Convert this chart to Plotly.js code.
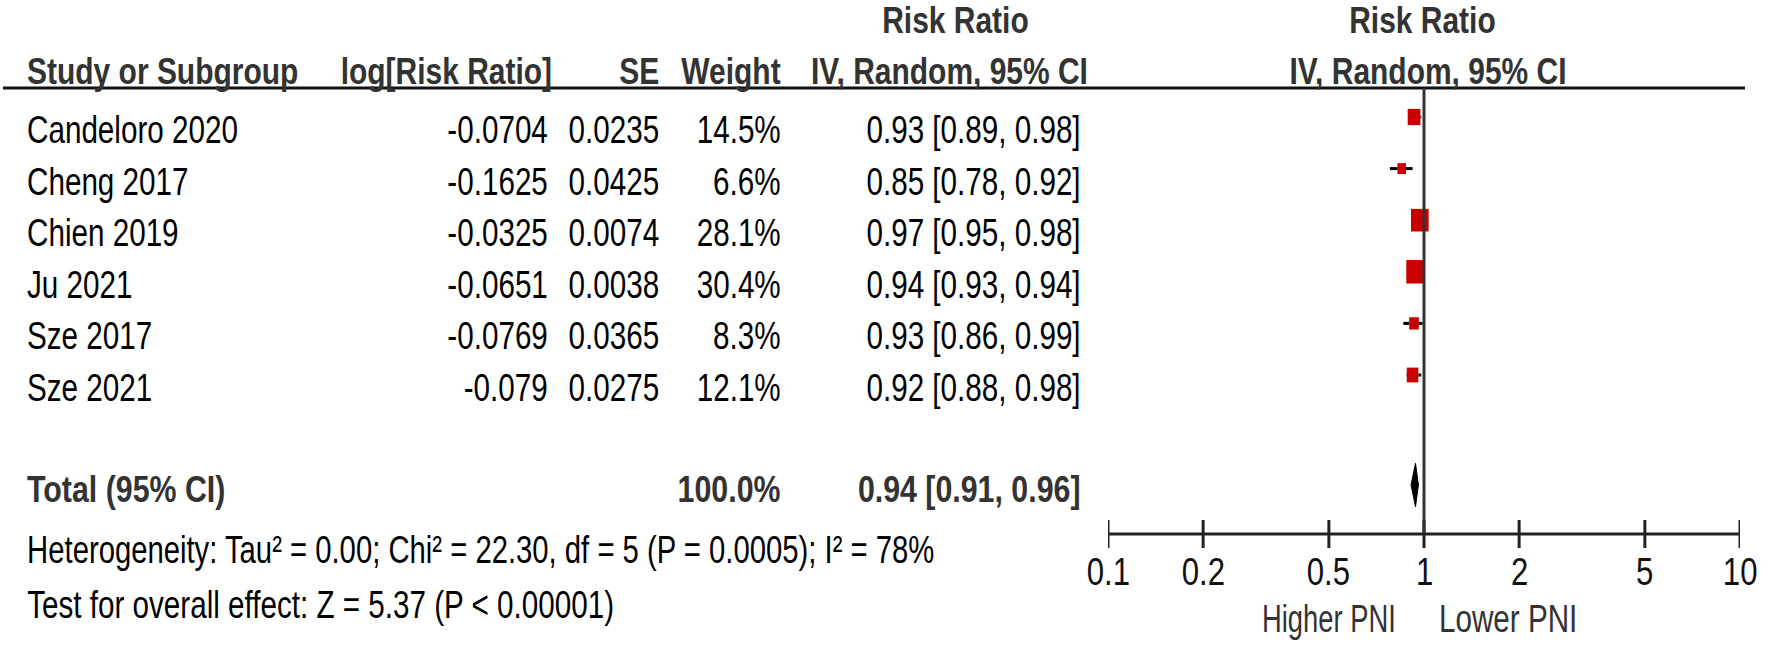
<!DOCTYPE html>
<html>
<head>
<meta charset="utf-8">
<script src="https://cdn.plot.ly/plotly-3.0.1.min.js"></script>
<style>html,body{margin:0;padding:0;background:#fff;}#chart{width:1772px;height:646px;}</style>
</head>
<body>
<div id="chart"></div>
<script>
// ---- data ----
var studies = ["Candeloro 2020", "Cheng 2017", "Chien 2019", "Ju 2021", "Sze 2017", "Sze 2021"];
var logRR = ["-0.0704", "-0.1625", "-0.0325", "-0.0651", "-0.0769", "-0.079"];
var seVals = ["0.0235", "0.0425", "0.0074", "0.0038", "0.0365", "0.0275"];
var weights = [14.5, 6.6, 28.1, 30.4, 8.3, 12.1];
var rr = [0.93, 0.85, 0.97, 0.94, 0.93, 0.92];
var ciLow = [0.89, 0.78, 0.95, 0.93, 0.86, 0.88];
var ciHigh = [0.98, 0.92, 0.98, 0.94, 0.99, 0.98];
var totalLabel = "Total (95% CI)";
var totalWeight = 100.0;
var totalRR = 0.94, totalLow = 0.91, totalHigh = 0.96;
var heterogeneity = "Heterogeneity: Tau² = 0.00; Chi² = 22.30, df = 5 (P = 0.0005); I² = 78%";
var overallTest = "Test for overall effect: Z = 5.37 (P < 0.00001)";
var tickVals = [0.1, 0.2, 0.5, 1, 2, 5, 10];
var tickText = ["0.1", "0.2", "0.5", "1", "2", "5", "10"];
var leftFavour = "Higher PNI", rightFavour = "Lower PNI";
var headers = ["Study or Subgroup", "log[Risk Ratio]", "SE", "Weight", "IV, Random, 95% CI", "IV, Random, 95% CI"];
var groupHeader = "Risk Ratio";

// ---- layout helpers ----
var W = 1772, H = 646;
var FONT = "Liberation Sans, Arial, sans-serif";
var rowPx0 = 117, rowStep = 51.6;
function rowOf(p) { return (p - rowPx0) / rowStep; }
function px(xp) { return xp / W; }
var totalRow = rowOf(485);
var axisRow = rowOf(534);
var headLineRow = rowOf(88);
var textShift = 13 / rowStep;

var ann = [], meta = [];
function addText(text, x, row, anchor, opts) {
  opts = opts || {};
  ann.push({
    text: opts.bold ? "<b>" + text + "</b>" : text,
    xref: opts.xref || "paper", yref: "y", x: opts.xref ? x : px(x), y: row,
    xanchor: anchor, yanchor: "middle", showarrow: false,
    font: {family: FONT, size: opts.size || 38, color: opts.color || "#000"}
  });
  meta.push({anchor: anchor, sx: opts.sx || 0.78});
}
var hdrC = "#333333";
var H1 = rowOf(20), H2 = rowOf(71);
var hb = {bold: true, color: hdrC, size: 37, sx: 0.81};
addText(groupHeader, 956, H1, "center", hb);
addText(groupHeader, 1422, H1, "center", hb);
addText(headers[0], 25, H2, "left", hb);
addText(headers[1], 554, H2, "right", hb);
addText(headers[2], 661, H2, "right", hb);
addText(headers[3], 783, H2, "right", hb);
addText(headers[4], 1090, H2, "right", hb);
addText(headers[5], 1428, H2, "center", hb);
for (var i = 0; i < studies.length; i++) {
  var r = i + textShift;
  addText(studies[i], 25, r, "left");
  addText(logRR[i], 550, r, "right");
  addText(seVals[i], 661, r, "right");
  addText(weights[i].toFixed(1) + "%", 783, r, "right");
  addText(rr[i].toFixed(2) + " [" + ciLow[i].toFixed(2) + ", " + ciHigh[i].toFixed(2) + "]", 1083, r, "right");
}
var tb = {bold: true, color: hdrC, size: 37, sx: 0.82};
var totTextRow = rowOf(489);
addText(totalLabel, 25, totTextRow, "left", tb);
addText(totalWeight.toFixed(1) + "%", 783, totTextRow, "right", tb);
addText(totalRR.toFixed(2) + " [" + totalLow.toFixed(2) + ", " + totalHigh.toFixed(2) + "]", 1083, totTextRow, "right", tb);
addText(heterogeneity, 25, rowOf(550), "left", {sx: 0.77});
addText(overallTest, 25, rowOf(605), "left");
addText(leftFavour, 1398, rowOf(619), "right", {color: hdrC, sx: 0.72});
addText(rightFavour, 1437, rowOf(619), "left", {color: hdrC});
for (var t = 0; t < tickVals.length; t++) {
  // annotations on a log axis take log10 positions
  addText(tickText[t], Math.log10(tickVals[t]), rowOf(572), "center", {xref: "x", color: "#111", sx: 0.82});
}

// ---- study boxes (rectangles, area ~ weight) ----
var maxW = Math.max.apply(null, weights);
var boxLeft = [], boxLen = [], boxH = [];
var ciX = [], ciY = [];
for (var j = 0; j < studies.length; j++) {
  var s = Math.sqrt(weights[j] / maxW);
  var hwLog = (9.2 * s) / 316;
  var L = rr[j] * Math.pow(10, -hwLog), R = rr[j] * Math.pow(10, hwLog);
  boxLeft.push(L); boxLen.push(R - L); boxH.push(23.5 * s / rowStep);
  if (ciLow[j] < L) { ciX.push(ciLow[j], L, null); ciY.push(j, j, null); }
  if (ciHigh[j] > R) { ciX.push(R, ciHigh[j], null); ciY.push(j, j, null); }
}
var rowsIdx = studies.map(function (_, k) { return k; });
var traces = [
  {type: "bar", orientation: "h", y: rowsIdx, x: boxLen, base: boxLeft, width: boxH,
   marker: {color: "#c80000", line: {width: 0}}, hoverinfo: "skip", showlegend: false},
  {type: "scatter", mode: "lines", x: ciX, y: ciY, line: {color: "#000", width: 3},
   hoverinfo: "skip", showlegend: false},
  {type: "scatter", mode: "lines", fill: "toself", fillcolor: "#000",
   x: [totalLow, totalRR, totalHigh, totalRR, totalLow],
   y: [totalRow, totalRow - 0.42, totalRow, totalRow + 0.42, totalRow],
   line: {color: "#000", width: 1}, hoverinfo: "skip", showlegend: false},
  {type: "scatter", mode: "markers", x: tickVals, y: tickVals.map(function () { return axisRow; }),
   marker: {symbol: "line-ns-open", size: 20, color: "#222", line: {color: "#222", width: 3}},
   hoverinfo: "skip", showlegend: false}
];

var layout = {
  width: W, height: H,
  margin: {l: 0, r: 0, t: 0, b: 0},
  paper_bgcolor: "#fff", plot_bgcolor: "rgba(0,0,0,0)",
  showlegend: false,
  xaxis: {
    type: "log", range: [-1, 1], domain: [px(1108), px(1740)],
    showline: false, showgrid: false, zeroline: false, showticklabels: false, ticks: ""
  },
  yaxis: {
    range: [rowOf(H), rowOf(0)], domain: [0, 1], visible: false,
    showgrid: false, zeroline: false
  },
  shapes: [
    {type: "line", xref: "paper", yref: "y", x0: px(3), x1: px(1745), y0: headLineRow, y1: headLineRow,
     line: {color: "#111", width: 3}},
    {type: "line", xref: "x", yref: "y", x0: 1, x1: 1, y0: headLineRow, y1: axisRow,
     line: {color: "#333", width: 3}},
    {type: "line", xref: "x", yref: "y", x0: tickVals[0], x1: tickVals[tickVals.length - 1], y0: axisRow, y1: axisRow,
     line: {color: "#222", width: 3}}
  ],
  annotations: ann
};

Plotly.newPlot("chart", traces, layout, {displayModeBar: false, staticPlot: true}).then(function (gd) {
  var gs = gd.querySelectorAll("g.annotation");
  gs.forEach(function (g) {
    var idx = +g.getAttribute("data-index");
    var m = meta[idx];
    var txt = g.querySelector("text");
    if (!m || !txt) return;
    txt.style.transformBox = "fill-box";
    txt.style.transformOrigin = (m.anchor === "left" ? "left" : m.anchor === "right" ? "right" : "center") + " center";
    txt.style.transform = "scaleX(" + m.sx + ")";
  });
});
</script>
</body>
</html>
